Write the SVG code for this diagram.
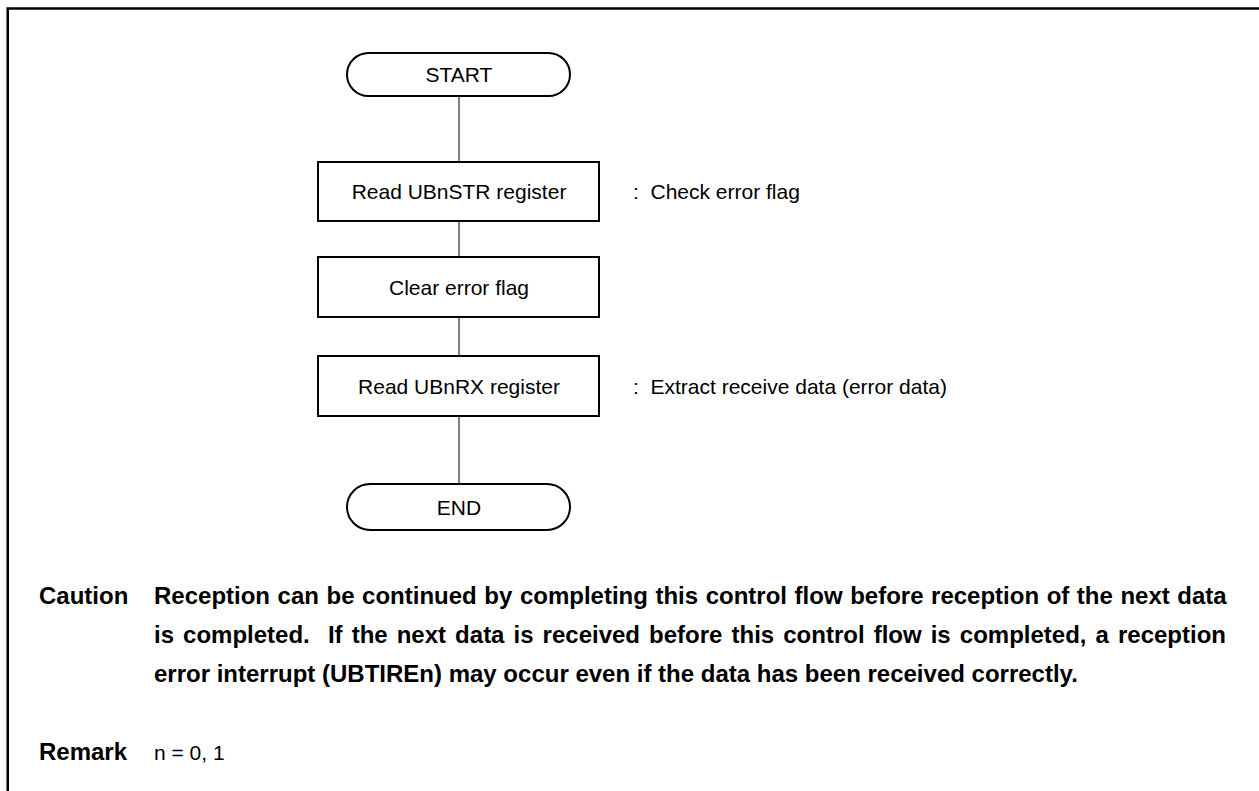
<svg xmlns="http://www.w3.org/2000/svg" width="1259" height="791" viewBox="0 0 1259 791">
<style>
.frame{fill:none;stroke:#000;stroke-width:2.5}
.box{fill:#fff;stroke:#000;stroke-width:2}
.conn{fill:none;stroke:#000;stroke-width:1}
.t{font-family:"Liberation Sans",Arial,sans-serif;font-size:21px;fill:#000}
.c{text-anchor:middle}
.b{font-family:"Liberation Sans",Arial,sans-serif;font-size:24px;font-weight:bold;fill:#000}
</style>
<rect width="1259" height="791" fill="#fff"/>
<path class="frame" d="M7.75,791 V8.5 H1259"/>
<g id="connectors">
<line class="conn" x1="459" y1="96" x2="459" y2="162"/>
<line class="conn" x1="459" y1="221" x2="459" y2="257"/>
<line class="conn" x1="459" y1="317" x2="459" y2="356"/>
<line class="conn" x1="459" y1="416" x2="459" y2="484"/>
</g>
<g id="start">
<rect class="box" x="347" y="53" width="223" height="43" rx="21.5"/>
<text class="t c" x="459" y="82">START</text>
</g>
<g id="read-str">
<rect class="box" x="318" y="162" width="281" height="59"/>
<text class="t c" x="459" y="199">Read UBnSTR register</text>
<text class="t" x="633" y="199" xml:space="preserve">:  Check error flag</text>
</g>
<g id="clear-flag">
<rect class="box" x="318" y="257" width="281" height="60"/>
<text class="t c" x="459" y="294.5">Clear error flag</text>
</g>
<g id="read-rx">
<rect class="box" x="318" y="356" width="281" height="60"/>
<text class="t c" x="459" y="393.5">Read UBnRX register</text>
<text class="t" x="633" y="393.5" xml:space="preserve">:  Extract receive data (error data)</text>
</g>
<g id="end">
<rect class="box" x="347" y="484" width="223" height="46" rx="23"/>
<text class="t c" x="459" y="514.5">END</text>
</g>
<g id="notes">
<text class="b" x="39" y="604">Caution</text>
<text class="b" x="154" y="604" word-spacing="0.9">Reception can be continued by completing this control flow before reception of the next data</text>
<text class="b" x="154" y="643" word-spacing="2.4" xml:space="preserve">is completed.  If the next data is received before this control flow is completed, a reception</text>
<text class="b" x="154" y="682">error interrupt (UBTIREn) may occur even if the data has been received correctly.</text>
<text class="b" x="39" y="760">Remark</text>
<text class="t" x="154" y="760">n = 0, 1</text>
</g>
</svg>
